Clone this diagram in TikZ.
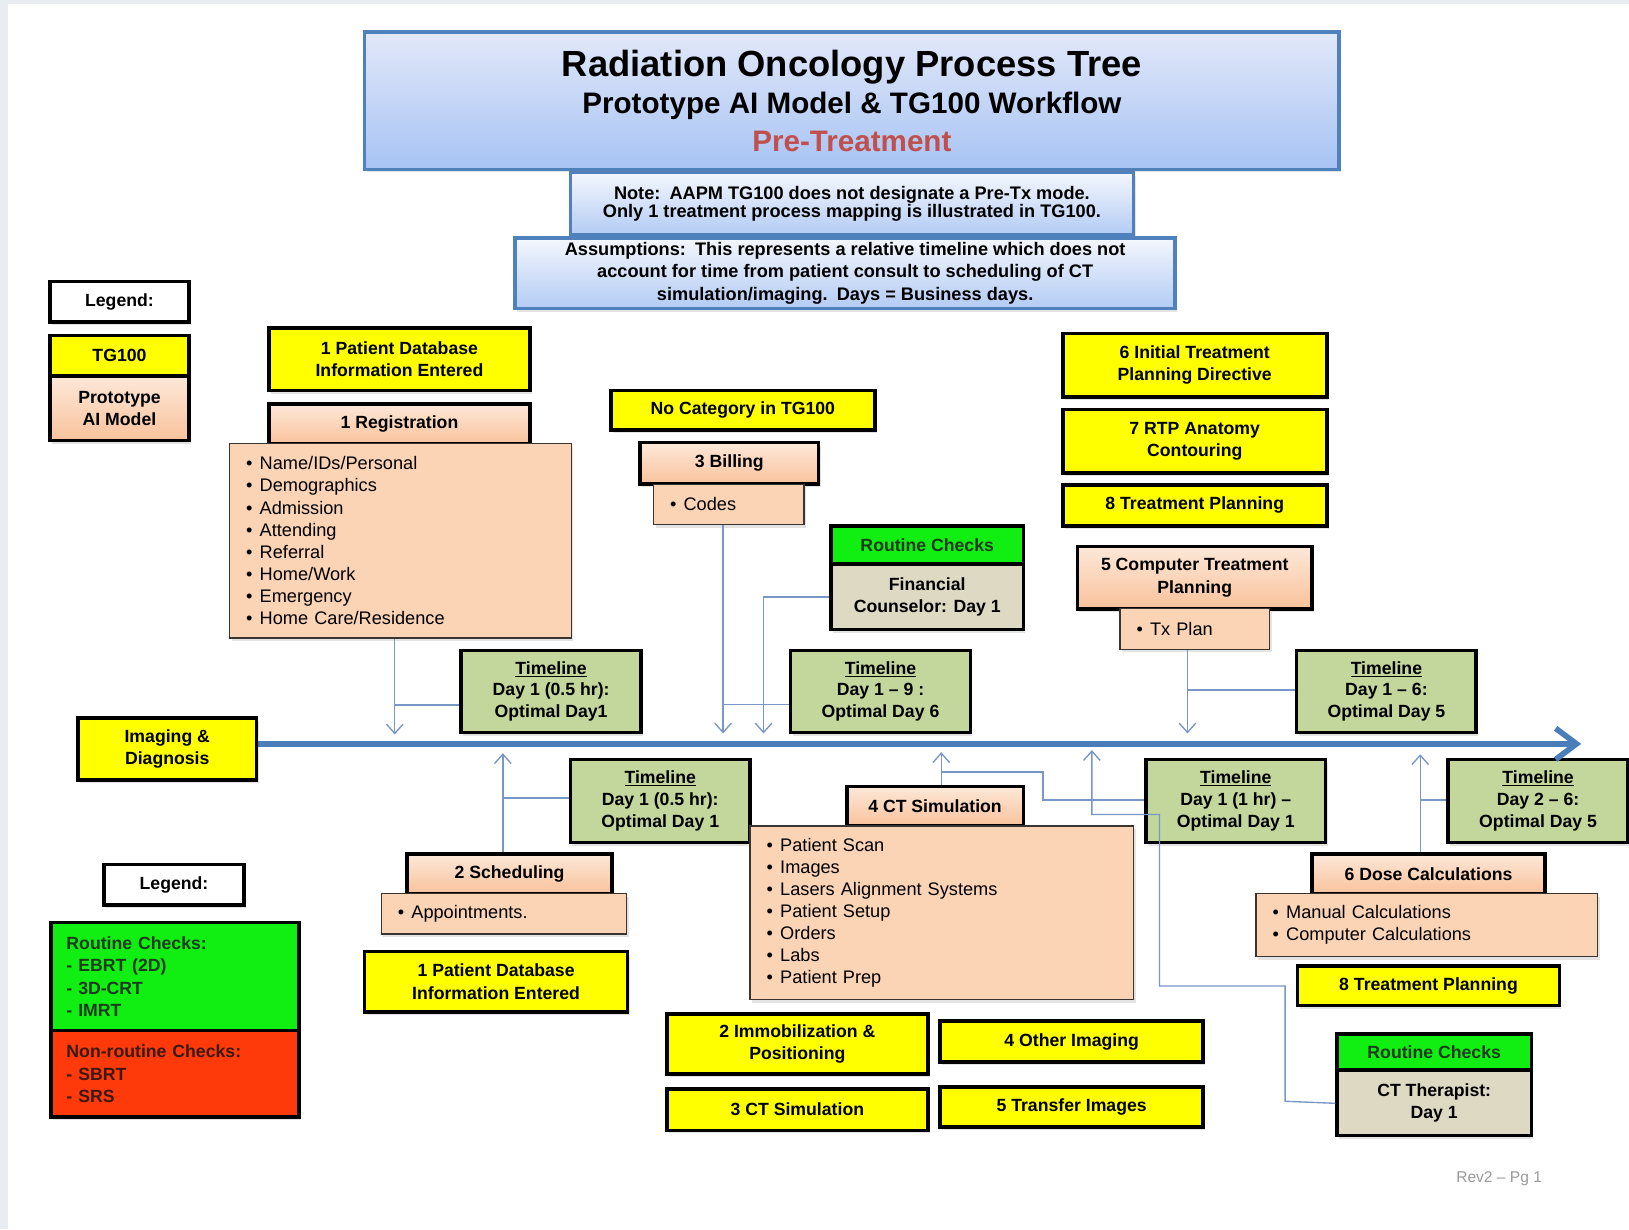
\documentclass[tikz,border=0pt]{standalone}
\usepackage{fontspec}
\setmainfont{Liberation Sans}
\usetikzlibrary{arrows.meta,calc,shadows}

\definecolor{tgyellow}{HTML}{FFFF00}
\definecolor{peachtop}{HTML}{FDE8D8}
\definecolor{peachbot}{HTML}{F9C29C}
\definecolor{peachlist}{HTML}{FBD3B5}
\definecolor{listedge}{HTML}{3A3530}
\definecolor{tlgreen}{HTML}{C3D69B}
\definecolor{rcgreen}{HTML}{11EE11}
\definecolor{rctext}{HTML}{1E3A1E}
\definecolor{nrred}{HTML}{FF3A0A}
\definecolor{nrtext}{HTML}{3A1A10}
\definecolor{tanfill}{HTML}{DDD9C3}
\definecolor{boxblue}{HTML}{4F81BD}
\definecolor{titletop}{HTML}{E2E8F9}
\definecolor{titlebot}{HTML}{A7C3F3}
\definecolor{notetop}{HTML}{F4F7FD}
\definecolor{notebot}{HTML}{B3CBF4}
\definecolor{ptred}{HTML}{C0504D}
\definecolor{mainblue}{HTML}{4A7EBB}
\definecolor{connblue}{HTML}{7896C6}
\definecolor{pagegray}{HTML}{E9EDF2}
\definecolor{revgray}{HTML}{9A9A9A}

\newcommand\bul{\makebox[13pt][l]{•}}

\begin{document}
\begin{tikzpicture}[x=1pt,y=-1pt,
  shd/.style={drop shadow={opacity=0.22,shadow xshift=2pt,shadow yshift=-3pt}},
  bx/.style={draw=black,line width=3.5pt,align=center,inner sep=0pt,shd,
    font=\bfseries\fontsize{17}{21.5}\selectfont},
  ybox/.style={bx,fill=tgyellow},
  pbox/.style={bx,top color=peachtop,bottom color=peachbot},
  lbox/.style={draw=listedge,line width=1.2pt,fill=peachlist,align=left,
    inner xsep=16pt,inner ysep=0pt,shd,font=\fontsize{17.5}{21.3}\selectfont},
  tbox/.style={bx,fill=tlgreen,font=\bfseries\fontsize{17}{21}\selectfont},
  gbox/.style={bx,fill=rcgreen,text=rctext},
  tanbox/.style={bx,fill=tanfill},
  wbox/.style={bx,fill=white},
  bluebox/.style={draw=boxblue,line width=3.5pt,align=center,inner sep=0pt,shd},
  conn/.style={draw=connblue,line width=1.3pt},
  conntip/.style={conn,-{Straight Barb[length=9pt,width=16pt]}},
]

% page
\fill[pagegray] (0,0) rectangle (1568,1183);
\fill[white] (8,4) rectangle (1568,1183);
\useasboundingbox (0,0) rectangle (1568,1183);

% ---------- header ----------
\node[bluebox,top color=notetop,bottom color=notebot,minimum width=542pt,minimum height=60pt,
  font=\bfseries\fontsize{17.5}{17}\selectfont] (note) at (820,196)
  {Note:\enspace AAPM TG100 does not designate a Pre-Tx mode.\\
   Only 1 treatment process mapping is illustrated in TG100.};
\node[bluebox,top color=notetop,bottom color=notebot,minimum width=635pt,minimum height=68pt,
  font=\bfseries\fontsize{17.5}{21.5}\selectfont] (assume) at (813.5,263)
  {Assumptions:\enspace This represents a relative timeline which does not\\
   account for time from patient consult to scheduling of CT\\
   simulation/imaging.\enspace Days = Business days.};
\node[bluebox,top color=titletop,bottom color=titlebot,minimum width=938pt,minimum height=132pt,
  font=\bfseries\fontsize{28.5}{36}\selectfont] (title) at (820,97)
  {{\fontsize{35}{36}\selectfont Radiation Oncology Process Tree}\\
   Prototype AI Model \& TG100 Workflow\\
   {\color{ptred}Pre-Treatment}};

% ---------- legend (top) ----------
\node[wbox,minimum width=134pt,minimum height=39pt] (leg1) at (115,290.5) {Legend:};
\node[ybox,minimum width=134pt,minimum height=39pt] (legtg) at (115,342.5) {TG100};
\node[pbox,minimum width=134pt,minimum height=62pt] (legai) at (115,393) {Prototype\\AI Model};

% ---------- upper branch ----------
\node[ybox,minimum width=251pt,minimum height=60pt] (pdb1) at (384.5,346)
  {1 Patient Database\\Information Entered};
\node[pbox,minimum width=251pt,minimum height=38pt] (reg) at (384.5,408) {1 Registration};
\node[lbox,text width=297pt,minimum height=187pt] (reglist) at (385.5,520.5)
  {\bul Name/IDs/Personal\\ \bul Demographics\\ \bul Admission\\ \bul Attending\\
   \bul Referral\\ \bul Home/Work\\ \bul Emergency\\ \bul Home Care/Residence};

\node[ybox,minimum width=254pt,minimum height=38pt] (nocat) at (715,395) {No Category in TG100};
\node[pbox,minimum width=172pt,minimum height=40pt] (bill) at (702,446) {3 Billing};
\node[lbox,text width=113pt,minimum height=39pt] (codes) at (701.5,485.5) {\bul Codes};

\node[gbox,minimum width=185pt,minimum height=37pt] (rcfin) at (892.5,524.5) {Routine Checks};
\node[tanbox,minimum width=185pt,minimum height=63pt] (fin) at (892.5,574.5)
  {Financial\\Counselor: Day 1};

\node[ybox,minimum width=254pt,minimum height=61pt] (itp) at (1150,351.5)
  {6 Initial Treatment\\Planning Directive};
\node[ybox,minimum width=254pt,minimum height=61pt] (rtp) at (1150,424.5)
  {7 RTP Anatomy\\Contouring};
\node[ybox,minimum width=254pt,minimum height=39pt] (tpa) at (1150,486.5) {8 Treatment Planning};
\node[pbox,minimum width=226pt,minimum height=60pt] (ctp) at (1150,556)
  {5 Computer Treatment\\Planning};
\node[lbox,text width=112pt,minimum height=39pt] (txplan) at (1150,605.5) {\bul Tx Plan};

% ---------- timeline boxes ----------
\node[tbox,minimum width=173pt,minimum height=79pt] (T1) at (530.5,665.5)
  {\underline{Timeline}\\Day 1 (0.5 hr):\\Optimal Day1};
\node[tbox,minimum width=173pt,minimum height=79pt] (T2) at (847.5,665.5)
  {\underline{Timeline}\\Day 1 -- 9 :\\Optimal Day 6};
\node[tbox,minimum width=173pt,minimum height=79pt] (T3) at (1334.5,665.5)
  {\underline{Timeline}\\Day 1 -- 6:\\Optimal Day 5};
\node[tbox,minimum width=173pt,minimum height=80pt] (T4) at (635.5,771)
  {\underline{Timeline}\\Day 1 (0.5 hr):\\Optimal Day 1};
\node[tbox,minimum width=173pt,minimum height=80pt] (T5) at (1189.5,771)
  {\underline{Timeline}\\Day 1 (1 hr) --\\Optimal Day 1};
\node[tbox,minimum width=173pt,minimum height=80pt] (T6) at (1480.5,771)
  {\underline{Timeline}\\Day 2 -- 6:\\Optimal Day 5};

% ---------- main timeline ----------
\node[ybox,minimum width=172pt,minimum height=60pt] (img) at (161,721) {Imaging \&\\Diagnosis};
\coordinate (mls) at ($(img.east)+(0,-5)$);
\coordinate (mle) at (1522,716);
\draw[mainblue,line width=5.5pt,-{Straight Barb[length=20pt,width=30pt]}] (mls) -- (mle);

% ---------- lower branch ----------
\node[wbox,minimum width=135pt,minimum height=39pt] (leg2) at (167.5,851.5) {Legend:};
\node[bx,fill=rcgreen,text=rctext,align=left,text width=209pt,inner xsep=15pt,minimum height=104pt,
  font=\bfseries\fontsize{17}{21.3}\selectfont] (legrc) at (168.5,940)
  {Routine Checks:\\- EBRT (2D)\\- 3D-CRT\\- IMRT};
\node[bx,fill=nrred,text=nrtext,align=left,text width=209pt,inner xsep=15pt,minimum height=83pt,
  font=\bfseries\fontsize{17}{21.3}\selectfont] (legnr) at (168.5,1033.5)
  {Non-routine Checks:\\- SBRT\\- SRS};

\node[pbox,minimum width=197pt,minimum height=38pt] (sched) at (490.5,841) {2 Scheduling};
\node[lbox,text width=204pt,minimum height=39pt] (appts) at (485,879.5) {\bul Appointments.};
\node[ybox,minimum width=253pt,minimum height=58pt] (pdb2) at (477.5,945)
  {1 Patient Database\\Information Entered};

\node[pbox,minimum width=170pt,minimum height=38pt] (cts) at (900,776) {4 CT Simulation};
\node[lbox,text width=337pt,minimum height=167pt] (ctlist) at (906.5,878.5)
  {\bul Patient Scan\\ \bul Images\\ \bul Lasers Alignment Systems\\ \bul Patient Setup\\
   \bul Orders\\ \bul Labs\\ \bul Patient Prep};

\node[ybox,minimum width=251pt,minimum height=58pt] (immob) at (767.5,1005)
  {2 Immobilization \&\\Positioning};
\node[ybox,minimum width=251pt,minimum height=40pt] (ctsim3) at (767.5,1068) {3 CT Simulation};
\node[ybox,minimum width=253pt,minimum height=39pt] (other) at (1031.5,1002.5) {4 Other Imaging};
\node[ybox,minimum width=253pt,minimum height=39pt] (transfer) at (1031.5,1065.5) {5 Transfer Images};

\node[pbox,minimum width=224pt,minimum height=38pt] (dose) at (1375,841) {6 Dose Calculations};
\node[lbox,text width=297pt,minimum height=61pt] (doselist) at (1373.5,890.5)
  {\bul Manual Calculations\\ \bul Computer Calculations};
\node[ybox,minimum width=252pt,minimum height=38pt] (tpb) at (1375,949) {8 Treatment Planning};
\node[gbox,minimum width=187pt,minimum height=35pt] (rcct) at (1380.5,1012.5) {Routine Checks};
\node[tanbox,minimum width=187pt,minimum height=63pt] (ctt) at (1380.5,1061.5)
  {CT Therapist:\\Day 1};

\node[text=revgray,font=\fontsize{15}{18}\selectfont] (rev) at (1443,1135) {Rev2 -- Pg 1};

% ---------- connectors above the timeline ----------
\coordinate (a1) at (380,707);
\draw[conntip] (reglist.south -| a1) -- (a1);
\coordinate (t1in) at ($(T1.west)+(0,13)$);
\draw[conn] (t1in) -- (t1in -| a1);

\coordinate (a2) at (696,706);
\draw[conntip] (codes.south -| a2) -- (a2);
\coordinate (t2in) at ($(T2.west)+(0,12.5)$);
\draw[conn] (t2in) -- (t2in -| a2);

\coordinate (a3) at (735,706);
\draw[conntip] (fin.west) -| (a3);

\coordinate (a4) at (1143,706);
\draw[conntip] (txplan.south -| a4) -- (a4);
\coordinate (t3in) at ($(T3.west)+(0,-1.5)$);
\draw[conn] (t3in) -- (t3in -| a4);

% ---------- connectors below the timeline ----------
\coordinate (a5) at (484,725);
\draw[conntip] (sched.north -| a5) -- (a5);
\coordinate (t4in) at ($(T4.west)+(0,-3)$);
\draw[conn] (t4in) -- (t4in -| a5);

\coordinate (a6) at (906,724);
\draw[conntip] (cts.north -| a6) -- (a6);
\coordinate (b6) at (906,743);
\coordinate (b6k) at (1004,743);
\coordinate (t5in) at ($(T5.west)+(0,-1)$);
\draw[conn] (b6) -- (b6k) |- (t5in);

\coordinate (a7) at (1051,722);
\coordinate (s7) at ($(ctt.west)+(0,0.5)$);
\coordinate (k7a) at (1237,1060);
\coordinate (k7b) at (1237,949);
\coordinate (k7c) at (1116,949);
\coordinate (k7d) at (1116,784);
\draw[conntip] (s7) -- (k7a) -- (k7b) -- (k7c) -- (k7d) -| (a7);

\coordinate (a8) at (1367,726);
\draw[conntip] (dose.north -| a8) -- (a8);
\coordinate (t6in) at ($(T6.west)+(0,-1)$);
\draw[conn] (t6in) -- (t6in -| a8);

\end{tikzpicture}
\end{document}
